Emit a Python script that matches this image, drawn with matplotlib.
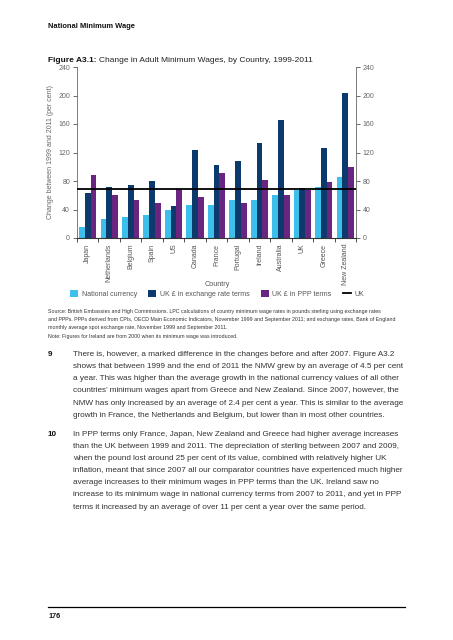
import matplotlib
matplotlib.use("Agg")
import matplotlib.pyplot as plt
import numpy as np
from matplotlib.patches import Patch
from matplotlib.lines import Line2D

plt.rcParams['font.family'] = ['Liberation Sans', 'DejaVu Sans']

countries = ["Japan", "Netherlands", "Belgium", "Spain", "US", "Canada", "France",
             "Portugal", "Ireland", "Australia", "UK", "Greece", "New Zealand"]
national_currency = [15, 26, 29, 32, 40, 47, 47, 53, 54, 61, 68, 72, 85]
uk_exchange = [63, 72, 75, 80, 45, 123, 102, 108, 133, 165, 70, 127, 203]
uk_ppp = [88, 61, 53, 49, 69, 57, 91, 49, 82, 60, 68, 78, 100]
uk_line = 68.6
yticks = [0, 40, 80, 120, 160, 200, 240]

series_names = ["National currency", "UK £ in exchange rate terms", "UK £ in PPP terms"]
colors = ["#3dbfec", "#0d3a6c", "#6a2581"]

W, H = 453, 640
fig = plt.figure(figsize=(W / 100, H / 100), dpi=100)

def fx(px):
    return px / W

def fy(py):
    return 1 - py / H

ax = fig.add_axes([fx(77), fy(238), fx(356) - fx(77), fy(67) - fy(238)])
x = np.arange(len(countries))
bw = 0.27
for i, (vals, c) in enumerate(zip([national_currency, uk_exchange, uk_ppp], colors)):
    ax.bar(x + (i - 1) * bw, vals, width=bw, color=c, linewidth=0, zorder=2)
ax.axhline(uk_line, color="black", linewidth=1.3, zorder=3)

ax.set_xlim(-0.5, len(countries) - 0.5)
ax.set_ylim(0, 240)
ax.set_yticks(yticks)
ax.set_yticklabels([str(v) for v in yticks])
ax.tick_params(axis='y', which='both', direction='out', length=3, width=0.6,
               color="#555555", labelsize=5, labelcolor="#666666",
               left=True, right=True, labelleft=True, labelright=True, pad=2)
ax.set_xticks(np.arange(-0.5, len(countries), 1.0))
ax.set_xticklabels([])
ax.set_xticks(x, minor=True)
ax.set_xticklabels(countries, minor=True, rotation=90, fontsize=5, color="#555555")
ax.tick_params(axis='x', which='major', direction='out', length=3, width=0.6, color="#333333")
ax.tick_params(axis='x', which='minor', length=0, pad=4)
ax.spines["top"].set_visible(False)
for s in ["left", "right"]:
    ax.spines[s].set_color("#666666")
    ax.spines[s].set_linewidth(0.6)
ax.spines["bottom"].set_color("#333333")
ax.spines["bottom"].set_linewidth(0.8)

fig.text(fx(51), fy(152), "Change between 1999 and 2011 (per cent)", rotation=90,
         ha="center", va="center", fontsize=5, color="#666666")
fig.text(fx(217), fy(284), "Country", ha="center", va="center", fontsize=5.2, color="#555555")

handles = [Patch(facecolor=c, edgecolor="none") for c in colors] + \
          [Line2D([0], [0], color="black", linewidth=1.3)]
labels = series_names + ["UK"]
leg = fig.legend(handles, labels, loc="center", bbox_to_anchor=(fx(217), fy(294)),
                 ncol=4, frameon=False, fontsize=5, handlelength=1.2, handleheight=1.1,
                 handletextpad=0.5, columnspacing=1.6, borderpad=0)
for t in leg.get_texts():
    t.set_color("#555555")

# Header texts
fig.text(fx(48), fy(26), "National Minimum Wage", fontsize=5.45, fontweight="bold",
         ha="left", va="center", color="#111111")
t1 = fig.text(fx(48), fy(61), "Figure A3.1:", fontsize=6.0, fontweight="bold",
              ha="left", va="center", color="#111111")
fig.canvas.draw()
bb = t1.get_window_extent()
fig.text(bb.x1 / W + fx(2.3), fy(61), "Change in Adult Minimum Wages, by Country, 1999-2011",
         fontsize=6.0, ha="left", va="center", color="#222222")

source_lines = [
    "Source: British Embassies and High Commissions. LPC calculations of country minimum wage rates in pounds sterling using exchange rates",
    "and PPPs. PPPs derived from CPIs, OECD Main Economic Indicators, November 1999 and September 2011; and exchange rates, Bank of England",
    "monthly average spot exchange rate, November 1999 and September 2011.",
    "Note: Figures for Ireland are from 2000 when its minimum wage was introduced.",
]
for i, line in enumerate(source_lines):
    fig.text(fx(48), fy(311 + i * 8.4), line, fontsize=3.8, ha="left", va="center",
             color="#333333")

para9 = [
    "There is, however, a marked difference in the changes before and after 2007. Figure A3.2",
    "shows that between 1999 and the end of 2011 the NMW grew by an average of 4.5 per cent",
    "a year. This was higher than the average growth in the national currency values of all other",
    "countries\u2019 minimum wages apart from Greece and New Zealand. Since 2007, however, the",
    "NMW has only increased by an average of 2.4 per cent a year. This is similar to the average",
    "growth in France, the Netherlands and Belgium, but lower than in most other countries.",
]
para10 = [
    "In PPP terms only France, Japan, New Zealand and Greece had higher average increases",
    "than the UK between 1999 and 2011. The depreciation of sterling between 2007 and 2009,",
    "when the pound lost around 25 per cent of its value, combined with relatively higher UK",
    "inflation, meant that since 2007 all our comparator countries have experienced much higher",
    "average increases to their minimum wages in PPP terms than the UK. Ireland saw no",
    "increase to its minimum wage in national currency terms from 2007 to 2011, and yet in PPP",
    "terms it increased by an average of over 11 per cent a year over the same period.",
]
fs = 5.9
fig.text(fx(48), fy(354), "9", fontsize=fs, fontweight="bold", ha="left", va="center", color="#111111")
for i, line in enumerate(para9):
    fig.text(fx(73), fy(354 + i * 12.3), line, fontsize=fs, ha="left", va="center", color="#333333")
fig.text(fx(48), fy(434), "10", fontsize=fs, fontweight="bold", ha="left", va="center", color="#111111")
for i, line in enumerate(para10):
    fig.text(fx(73), fy(434 + i * 12.2), line, fontsize=fs, ha="left", va="center", color="#333333")

fig.add_artist(Line2D([fx(48), fx(405)], [fy(607), fy(607)], color="black", linewidth=0.9))
fig.text(fx(48), fy(616), "176", fontsize=5.2, fontweight="bold", ha="left", va="center", color="#111111")

fig.savefig("out.png", dpi=100)
